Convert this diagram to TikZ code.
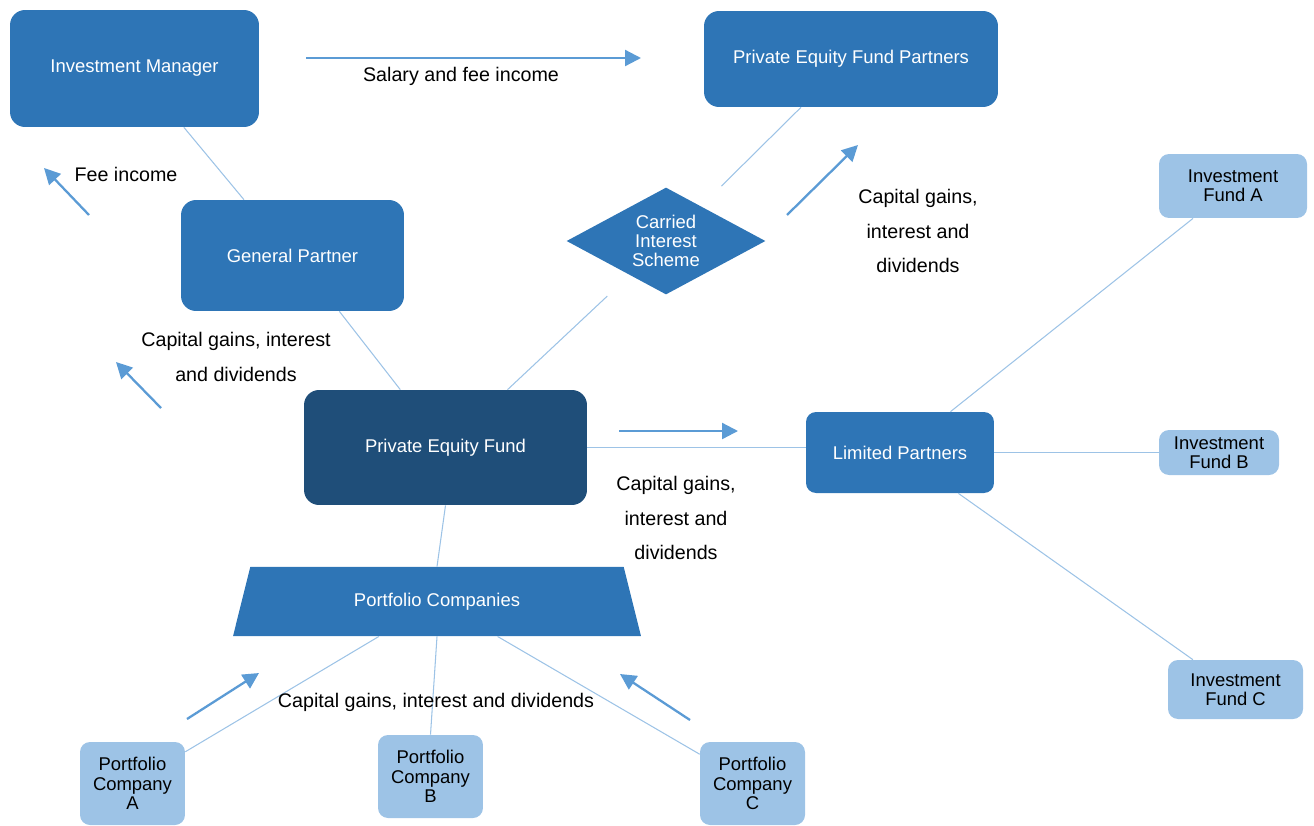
\documentclass[tikz,border=0pt]{standalone}
\usepackage{fontspec}
\setmainfont{Liberation Sans}
\usepackage{xcolor}
\usetikzlibrary{shapes.geometric, arrows.meta}

\definecolor{boxblue}{HTML}{2E75B6}
\definecolor{darkblue}{HTML}{1F4E79}
\definecolor{paleblue}{HTML}{9DC3E6}
\definecolor{flowblue}{HTML}{5B9BD5}

\begin{document}
\begin{tikzpicture}[x=0.02cm, y=-0.02cm, >={Triangle[length=3.2mm, width=3.2mm]},
    box/.style={fill=boxblue, text=white, rounded corners=0.3cm, inner sep=0pt,
        align=center, font=\fontsize{10.5}{11}\selectfont},
    smallbox/.style={box, fill=paleblue, text=black, rounded corners=0.2cm},
    link/.style={draw=paleblue, line width=0.6pt},
    flow/.style={->, draw=flowblue, line width=1.3pt},
    lbl/.style={align=center, font=\fontsize{11.2}{19.5}\selectfont}]
    \useasboundingbox (0,0) rectangle (1314,825);

    % 1. Các nút chính
    \node[box, minimum width=4.98cm, minimum height=2.34cm] (im) at (134.5,68.5) {Investment Manager};
    \node[box, minimum width=5.88cm, minimum height=1.92cm] (pefp) at (851,59) {Private Equity Fund Partners};
    \node[box, minimum width=4.46cm, minimum height=2.22cm] (gp) at (292.5,255.5) {General Partner};
    \node[diamond, aspect=1.86, fill=boxblue, text=white, inner sep=0pt, align=center,
        font=\fontsize{10.5}{11}\selectfont, minimum width=3.98cm, minimum height=2.14cm]
        (cis) at (666,241) {Carried\\Interest\\Scheme};
    \node[box, fill=darkblue, minimum width=5.66cm, minimum height=2.3cm] (pef) at (445.5,447.5) {Private Equity Fund};
    \node[box, rounded corners=0.2cm, minimum width=3.76cm, minimum height=1.62cm] (lp) at (900,452.5) {Limited Partners};
    \node[trapezium, trapezium angle=76, trapezium stretches body, fill=boxblue, text=white,
        inner xsep=0pt, inner ysep=0.52cm, font=\fontsize{10.5}{11}\selectfont,
        minimum width=8.16cm, minimum height=1.38cm]
        (pc) at (437,601.5) {Portfolio Companies};

    % 2. Các quỹ và công ty
    \node[smallbox, minimum width=2.96cm, minimum height=1.28cm] (ifa) at (1233,186) {Investment\\Fund A};
    \node[smallbox, minimum width=2.4cm, minimum height=0.9cm] (ifb) at (1219,452.5) {Investment\\Fund B};
    \node[smallbox, minimum width=2.7cm, minimum height=1.18cm] (ifc) at (1235.5,689.5) {Investment\\Fund C};
    \node[smallbox, minimum width=2.1cm, minimum height=1.66cm] (pca) at (132.5,783.5) {Portfolio\\Company\\A};
    \node[smallbox, minimum width=2.1cm, minimum height=1.66cm] (pcb) at (430.5,776.5) {Portfolio\\Company\\B};
    \node[smallbox, minimum width=2.1cm, minimum height=1.66cm] (pcc) at (752.5,783.5) {Portfolio\\Company\\C};

    % 3. Đường nối
    \draw[link] (im.-50) -- (gp.131);
    \draw[link] (gp.-50) -- (pef.128);
    \draw[link, shorten >=1.61cm] (pef.43) -- (cis.center);
    \draw[link, shorten <=1.56cm] (cis.center) -- (pefp.-136);
    \draw[link] (pef.east) -- (pef.east -| lp.west);
    \draw[link] (pef.south) -- (pc.north);
    \draw[link] (lp.39) -- (ifa.-141);
    \draw[link] (lp.east) -- (ifb.west);
    \draw[link] (lp.-35) -- (ifc.145);
    \draw[link] (pc.-149) -- (pca.31);
    \draw[link] (pc.south) -- (pcb.north);
    \draw[link] (pc.-30) -- (pcc.151);

    % 4. Mũi tên dòng tiền
    \draw[flow] (306,58) -- (641,58);
    \draw[flow] (89,215) -- (44,168);
    \draw[flow] (787,215) -- (858,145);
    \draw[flow] (161,408) -- (116,362);
    \draw[flow] (619,431) -- (738,431);
    \draw[flow] (187,719) -- (259,673);
    \draw[flow] (690,720) -- (620,674);

    % 5. Nhãn
    \node[lbl] (salary) at (461,76) {Salary and fee income};
    \node[lbl] (fee) at (126,174) {Fee income};
    \node[lbl] (gainscis) at (918,231) {Capital gains,\\interest and\\dividends};
    \node[lbl] (gainsgp) at (236,357) {Capital gains, interest\\and dividends};
    \node[lbl] (gainslp) at (676,518) {Capital gains,\\interest and\\dividends};
    \node[lbl] (gainspc) at (436,702) {Capital gains, interest and dividends};
\end{tikzpicture}
\end{document}
